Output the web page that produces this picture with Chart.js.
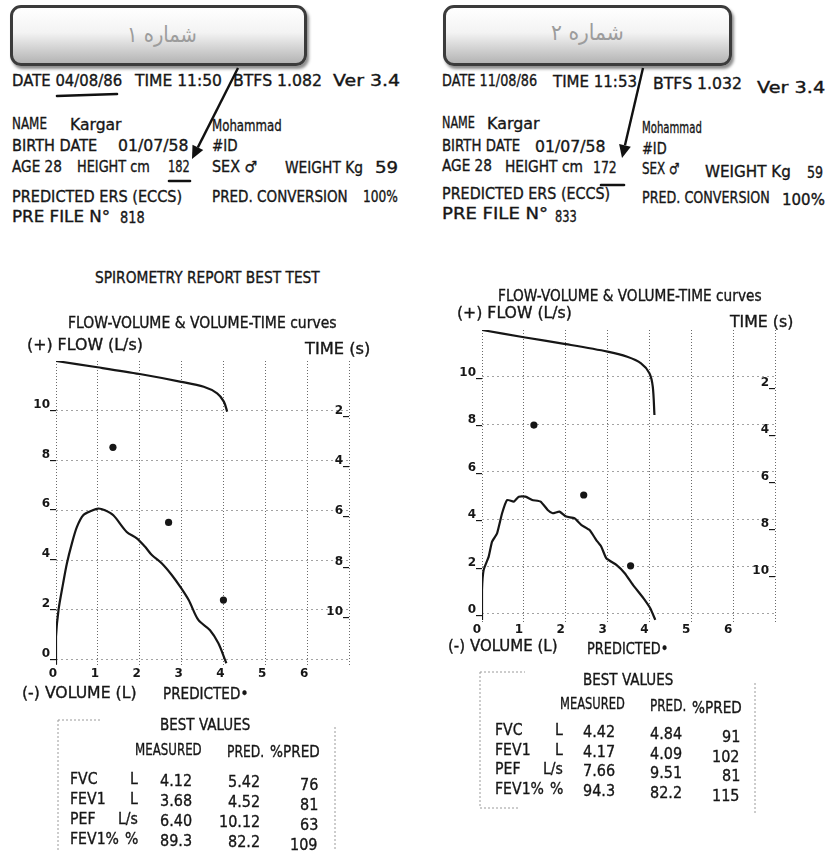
<!DOCTYPE html>
<html>
<head>
<meta charset="utf-8">
<script src="https://cdn.jsdelivr.net/npm/chart.js@4.4.0/dist/chart.umd.min.js"></script>
<style>
    html, body { margin: 0; padding: 0; background: #fff; }
    #page { position: relative; width: 829px; height: 852px; overflow: hidden; background: #fff; }
    .t { position: absolute; white-space: nowrap; line-height: 1; z-index: 2;
         font-family: 'DejaVu Sans', sans-serif; color: #161616;
         -webkit-text-stroke: 0.35px #161616; transform-origin: 0 50%; }
    .fa { color: #9c9c9c; -webkit-text-stroke: 0; z-index: 4; }
    .box { position: absolute; box-sizing: border-box; border: 3px solid #3b3b3b; border-radius: 11px;
           background: linear-gradient(to bottom, #ffffff 0%, #f3f3f3 45%, #b4b4b4 100%);
           box-shadow: 2px 3px 3px rgba(0,0,0,.45); z-index: 3; }
    canvas { position: absolute; z-index: 1; }
    svg { position: absolute; left: 0; top: 0; z-index: 5; }
</style>
</head>
<body>
<div id="page">
    <div class="box" style="left:10px;top:5px;width:297px;height:61px"></div>
    <div class="box" style="left:443px;top:5px;width:289px;height:61px"></div>
    <canvas id="chart-left" width="414" height="370" style="left:0;top:330px"></canvas>
    <canvas id="chart-right" width="415" height="370" style="left:414px;top:300px"></canvas>
    <svg id="marks" width="829" height="852"></svg>
</div>
<script>
// Шкалы
const volTicks = [0, 1, 2, 3, 4, 5, 6, 7];
const flowTicks = [0, 2, 4, 6, 8, 10];
const timeTicks = [2, 4, 6, 8, 10];

// Отчёт 1: поток–объём
const volumeLeft = [0, 0.0, 0.06, 0.17, 0.26, 0.38, 0.5, 0.65, 0.85, 1.01, 1.17, 1.37, 1.69, 1.93, 2.13, 2.29, 2.53, 2.77, 2.97, 3.17, 3.4, 3.68, 3.88, 4.04, 4.07];
const flowLeft = [-0.2, 0.92, 1.99, 3.06, 3.86, 4.67, 5.33, 5.8, 5.98, 6.07, 6.0, 5.8, 5.13, 4.87, 4.53, 4.2, 3.86, 3.39, 2.92, 2.39, 1.59, 1.18, 0.65, -0.02, -0.15];
// Отчёт 1: объём–время
const vtVolumeLeft = [0, 0.99, 2.0, 2.99, 3.53, 3.85, 4.01, 4.09];
const vtTimeLeft = [0, 0.25, 0.52, 0.83, 1.03, 1.29, 1.62, 2.02];
// Отчёт 1: предсказанные точки
const predVolumeLeft = [1.36, 2.69, 4.0];
const predFlowLeft = [8.53, 5.51, 2.39];

// Отчёт 2: поток–объём
const volumeRight = [0, 0, 0.04, 0.16, 0.24, 0.36, 0.48, 0.6, 0.76, 0.88, 1.04, 1.2, 1.4, 1.57, 1.69, 1.85, 2.01, 2.21, 2.37, 2.57, 2.73, 2.85, 2.97, 3.21, 3.41, 3.61, 3.86, 4.02, 4.14];
const flowRight = [-0.25, 1.01, 1.86, 2.42, 3.05, 3.4, 4.25, 4.81, 4.74, 4.95, 4.95, 4.81, 4.74, 4.39, 4.25, 4.32, 4.11, 4.04, 3.76, 3.54, 3.12, 2.84, 2.35, 2.07, 1.72, 1.22, 0.66, 0.24, -0.25];
// Отчёт 2: объём–время
const vtVolumeRight = [0, 1.0, 2.0, 3.0, 3.47, 3.8, 4.0, 4.08, 4.12];
const vtTimeRight = [0, 0.31, 0.6, 0.92, 1.14, 1.42, 1.84, 2.41, 3.62];
// Отчёт 2: предсказанные точки
const predVolumeRight = [1.24, 2.43, 3.55];
const predFlowRight = [7.97, 5.02, 2.03];

// Таблица BEST VALUES
const rowNames = ['FVC', 'FEV1', 'PEF', 'FEV1%'];
const rowUnits = ['L', 'L', 'L/s', '%'];
const rowDecimals = [2, 2, 2, 1];
const measuredLeft = [4.12, 3.68, 6.40, 89.3];
const predictedLeft = [5.42, 4.52, 10.12, 82.2];
const percentLeft = [76, 81, 63, 109];
const measuredRight = [4.42, 4.17, 7.66, 94.3];
const predictedRight = [4.84, 4.09, 9.51, 82.2];
const percentRight = [91, 102, 81, 115];

const INK = '#161616';
const page = document.getElementById('page');

// Текст: x — левый край (или правый, если right), y — середина строки
function put(text, x, y, o) {
    o = o || {};
    const d = document.createElement('div');
    d.className = 't' + (o.cls ? ' ' + o.cls : '');
    d.textContent = text;
    d.style.fontSize = (o.size || 15) + 'px';
    page.appendChild(d);
    const w = d.offsetWidth;
    const sx = o.w ? o.w / w : (o.sx || 1);
    d.style.left = (o.right ? x - w * sx : x) + 'px';
    d.style.top = y + 'px';
    d.style.transform = 'translateY(-50%) scaleX(' + sx + ')';
}

// Заголовки отчётов
put('شماره ۱', 127, 35, { w: 70, size: 22, cls: 'fa' });
put('شماره ۲', 551, 33, { w: 73, size: 22, cls: 'fa' });

const headerLeft = [
    ['DATE 04/08/86', 12, 81, 110], ['TIME 11:50', 135, 81, 87], ['BTFS 1.082', 233, 81, 89], ['Ver 3.4', 333, 81, 67],
    ['NAME', 12, 124, 35], ['Kargar', 70, 125, 52], ['Mohammad', 212, 126, 70],
    ['BIRTH DATE', 12, 146, 85], ['01/07/58', 118, 146, 70], ['#ID', 212, 146, 26],
    ['AGE 28', 12, 167, 50], ['HEIGHT cm', 77, 167, 73], ['182', 168, 167, 22], ['SEX ♂', 212, 167, 46],
    ['WEIGHT Kg', 285, 168, 78], ['59', 375, 168, 23],
    ['PREDICTED ERS (ECCS)', 12, 197, 170], ['PRED. CONVERSION', 212, 197, 136], ['100%', 363, 197, 35],
    ['PRE FILE N°', 12, 217, 98], ['818', 120, 218, 25],
    ['SPIROMETRY REPORT BEST TEST', 95, 278, 225],
    ['FLOW-VOLUME & VOLUME-TIME curves', 68, 323, 269],
    ['(+) FLOW (L/s)', 27, 345, 116], ['TIME (s)', 305, 349, 65],
    ['(-) VOLUME (L)', 22, 693, 115], ['PREDICTED•', 163, 694, 85],
    ['BEST VALUES', 160, 725, 90],
    ['MEASURED', 135, 750, 67], ['PRED.', 227, 752, 37], ['%PRED', 270, 752, 50]
];
const headerRight = [
    ['DATE 11/08/86', 442, 81, 95], ['TIME 11:53', 553, 82, 84], ['BTFS 1.032', 653, 84, 89], ['Ver 3.4', 757, 88, 68],
    ['NAME', 442, 123, 33], ['Kargar', 487, 124, 53], ['Mohammad', 642, 128, 60],
    ['BIRTH DATE', 442, 146, 78], ['01/07/58', 535, 147, 70], ['#ID', 642, 149, 25],
    ['AGE 28', 442, 166, 50], ['HEIGHT cm', 505, 167, 78], ['172', 593, 168, 24], ['SEX ♂', 642, 169, 38],
    ['WEIGHT Kg', 705, 172, 86], ['59', 807, 173, 16],
    ['PREDICTED ERS (ECCS)', 442, 194, 168], ['PRED. CONVERSION', 642, 198, 128], ['100%', 782, 200, 43],
    ['PRE FILE N°', 442, 214, 106], ['833', 555, 217, 22],
    ['FLOW-VOLUME & VOLUME-TIME curves', 498, 296, 264],
    ['(+) FLOW (L/s)', 457, 313, 115], ['TIME (s)', 730, 322, 63],
    ['(-) VOLUME (L)', 448, 646, 110], ['PREDICTED•', 587, 649, 81],
    ['BEST VALUES', 583, 680, 90],
    ['MEASURED', 560, 704, 65], ['PRED.', 650, 706, 36], ['%PRED', 692, 708, 50]
];
headerLeft.concat(headerRight).forEach(h => put(h[0], h[1], h[2], { w: h[3] }));

// Таблица: позиции колонок и наклон скана
function table(cols, rowsY, dy, measured, predicted, percent) {
    rowNames.forEach((name, i) => {
        const y = rowsY[i];
        put(name, cols[0], y + dy[0], { size: 16, sx: 0.88 });
        put(rowUnits[i], cols[1], y + dy[1], { size: 16, sx: 0.88, right: true });
        put(measured[i].toFixed(rowDecimals[i]), cols[2], y + dy[2], { size: 16, sx: 0.9 });
        put(predicted[i].toFixed(rowDecimals[i]), cols[3], y + dy[3], { size: 16, sx: 0.9, right: true });
        put(String(percent[i]), cols[4], y + dy[4], { size: 16, sx: 0.9, right: true });
    });
}
table([70, 138, 160, 260, 318], [779, 799, 819, 839], [0, 0, 2, 3, 6], measuredLeft, predictedLeft, percentLeft);
table([495, 563, 583, 682, 740], [730, 750, 769, 789], [0, 0, 2, 4, 7], measuredRight, predictedRight, percentRight);

// Графики
Chart.defaults.font.family = "'DejaVu Sans', sans-serif";

function xy(xs, ys) {
    return xs.map((x, i) => ({ x: x, y: ys[i] }));
}

function spiroChart(id, c) {
    const tickFont = { size: 12, weight: 'bold' };
    return new Chart(document.getElementById(id), {
        type: 'scatter',
        data: {
            datasets: [
                { data: xy(c.vol, c.flow), showLine: true, borderColor: INK, borderWidth: 2.2, pointRadius: 0, tension: c.tension, yAxisID: 'y' },
                { data: xy(c.vtVol, c.vtTime), showLine: true, borderColor: INK, borderWidth: 2.2, pointRadius: 0, tension: 0.3, yAxisID: 'y2' },
                { data: xy(c.predVol, c.predFlow), showLine: false, pointRadius: 3.6, pointBackgroundColor: INK, pointBorderWidth: 0, yAxisID: 'y' }
            ]
        },
        options: {
            responsive: false,
            animation: false,
            devicePixelRatio: 1,
            layout: { padding: c.pad },
            plugins: { legend: { display: false }, tooltip: { enabled: false } },
            scales: {
                x: {
                    type: 'linear', min: 0, max: 7,
                    afterBuildTicks: s => { s.ticks = volTicks.map(v => ({ value: v })); },
                    afterFit: s => { s.height = 22; },
                    grid: { color: '#6a6a6a', lineWidth: 1, drawTicks: false, borderDash: [1, 2] },
                    border: { display: false, dash: [1, 2] },
                    ticks: { padding: 0, labelOffset: c.xOff, color: INK, font: tickFont,
                             callback: v => (v <= 6 ? String(v) : '') }
                },
                y: {
                    position: 'left', min: c.flowMin, max: c.flowMax,
                    afterBuildTicks: s => { s.ticks = flowTicks.map(v => ({ value: v })); },
                    afterFit: s => { s.width = 40; },
                    grid: { color: '#a3a3a3', lineWidth: 1, drawTicks: false, borderDash: [2, 3] },
                    border: { display: false, dash: [2, 3] },
                    ticks: { padding: 0, labelOffset: c.yOff, color: INK, font: tickFont, callback: v => v + '_' }
                },
                y2: {
                    position: 'right', reverse: true, min: c.timeMin, max: c.timeMax,
                    afterBuildTicks: s => { s.ticks = timeTicks.map(v => ({ value: v })); },
                    afterFit: s => { s.width = 0; },
                    grid: { display: false, drawTicks: false },
                    border: { display: false },
                    ticks: { mirror: true, padding: 0, labelOffset: c.tOff, color: INK, font: tickFont, callback: v => v + '_' }
                }
            }
        }
    });
}

spiroChart('chart-left', {
    vol: volumeLeft, flow: flowLeft, vtVol: vtVolumeLeft, vtTime: vtTimeLeft,
    predVol: predVolumeLeft, predFlow: predFlowLeft, tension: 0.3,
    flowMin: -0.3, flowMax: 12, timeMin: 0, timeMax: 12.21,
    pad: { left: 16, right: 65, top: 31, bottom: 11 }, xOff: -3, yOff: -6, tOff: 0
});
spiroChart('chart-right', {
    vol: volumeRight, flow: flowRight, vtVol: vtVolumeRight, vtTime: vtTimeRight,
    predVol: predVolumeRight, predFlow: predFlowRight, tension: 0.15,
    flowMin: -0.38, flowMax: 11.98, timeMin: 0, timeMax: 12.47,
    pad: { left: 28, right: 54, top: 30, bottom: 25 }, xOff: -5, yOff: -4, tOff: 6
});

// Стрелки, подчёркивания и рамки таблиц
const svg = document.getElementById('marks');
function el(tag, attrs) {
    const e = document.createElementNS('http://www.w3.org/2000/svg', tag);
    Object.keys(attrs).forEach(k => e.setAttribute(k, attrs[k]));
    svg.appendChild(e);
}
function arrow(x1, y1, x2, y2) {
    const L = Math.hypot(x2 - x1, y2 - y1);
    const ux = (x2 - x1) / L, uy = (y2 - y1) / L;
    const bx = x2 - 13 * ux, by = y2 - 13 * uy;
    el('line', { x1: x1, y1: y1, x2: bx, y2: by, stroke: '#111', 'stroke-width': 2.4 });
    el('polygon', { points: `${x2},${y2} ${bx - 6 * uy},${by + 6 * ux} ${bx + 6 * uy},${by - 6 * ux}`, fill: '#111' });
}
arrow(238, 68, 192, 159);
arrow(643, 68, 622, 158);

[[57, 96, 117, 94], [169, 181, 190, 181], [601, 185, 624, 185]].forEach(u =>
    el('line', { x1: u[0], y1: u[1], x2: u[2], y2: u[3], stroke: '#111', 'stroke-width': 2.6, 'stroke-linecap': 'round' }));

[[58, 720, 58, 852], [58, 720, 100, 720], [335, 727, 335, 850],
 [480, 672, 480, 808], [480, 672, 525, 672], [480, 808, 520, 808], [755, 683, 755, 815]].forEach(b =>
    el('line', { x1: b[0], y1: b[1], x2: b[2], y2: b[3], stroke: '#9a9a9a', 'stroke-width': 1, 'stroke-dasharray': '2 2' }));
</script>
</body>
</html>
